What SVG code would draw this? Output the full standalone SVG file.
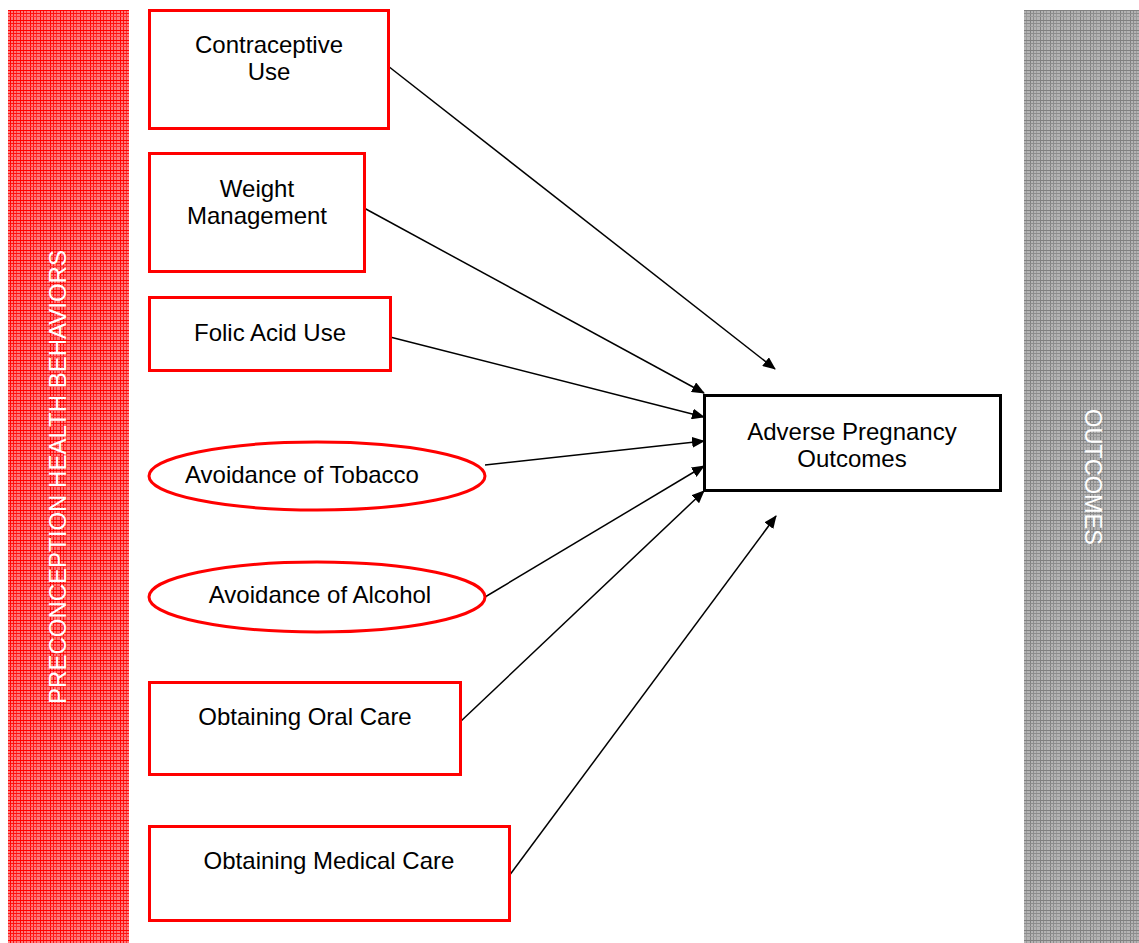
<svg xmlns="http://www.w3.org/2000/svg" width="1139" height="943" viewBox="0 0 1139 943">
<style>
.box{fill:#fff;stroke:#f00;stroke-width:3}
.t{font-family:"Liberation Sans",Arial,sans-serif;font-size:24px;fill:#000;text-anchor:middle}
.bar{font-family:"Liberation Sans",Arial,sans-serif;font-size:24px;fill:#fff;text-anchor:middle}
.c{stroke:#000;stroke-width:1.5;fill:none;marker-end:url(#ah)}
</style>
<defs>
<pattern id="pr" width="10" height="10" patternUnits="userSpaceOnUse">
<rect width="10" height="10" fill="#ff7a7a"/>
<rect x="0" y="0" width="1" height="10" fill="#ff0000"/>
<rect x="3" y="0" width="1" height="10" fill="#ff1010"/>
<rect x="6" y="0" width="1" height="10" fill="#ff3030"/>
<rect x="0" y="0" width="10" height="1" fill="#ff0000"/>
<rect x="0" y="3" width="10" height="1" fill="#ff1010"/>
<rect x="0" y="6" width="10" height="1" fill="#ff3030"/>
</pattern>
<pattern id="pg" width="10" height="10" patternUnits="userSpaceOnUse">
<rect width="10" height="10" fill="#b4b4b4"/>
<rect x="0" y="0" width="1" height="10" fill="#808080"/>
<rect x="3" y="0" width="1" height="10" fill="#8c8c8c"/>
<rect x="6" y="0" width="1" height="10" fill="#9a9a9a"/>
<rect x="0" y="0" width="10" height="1" fill="#808080"/>
<rect x="0" y="3" width="10" height="1" fill="#8c8c8c"/>
<rect x="0" y="6" width="10" height="1" fill="#9a9a9a"/>
</pattern>
<marker id="ah" markerWidth="13" markerHeight="11" refX="12" refY="5.5" orient="auto" markerUnits="userSpaceOnUse">
<path d="M0,0 L13,5.5 L0,11 Z" fill="#000"/>
</marker>
</defs>
<g id="bar-left">
<rect x="8" y="10" width="121" height="933" fill="url(#pr)"/>
<text class="bar" transform="translate(66,477) rotate(-90)">PRECONCEPTION HEALTH BEHAVIORS</text>
</g>
<g id="bar-right">
<rect x="1024" y="10" width="115" height="933" fill="url(#pg)"/>
<text class="bar" style="font-size:23.5px" transform="translate(1085,477) rotate(90)">OUTCOMES</text>
</g>
<g id="connectors">
<line class="c" x1="388" y1="66" x2="775" y2="369"/>
<line class="c" x1="364" y1="208" x2="704" y2="393"/>
<line class="c" x1="390" y1="337" x2="704" y2="417"/>
<line class="c" x1="485" y1="465" x2="704" y2="441"/>
<line class="c" x1="485" y1="597" x2="704" y2="466"/>
<line class="c" x1="460" y1="722" x2="704" y2="491"/>
<line class="c" x1="509" y1="876" x2="776" y2="516"/>
</g>
<g id="n-contraceptive">
<rect class="box" x="149.5" y="10.5" width="239" height="118"/>
<text class="t" x="269" y="53">Contraceptive</text>
<text class="t" x="269" y="80">Use</text>
</g>
<g id="n-weight">
<rect class="box" x="149.5" y="153.5" width="215" height="118"/>
<text class="t" x="257" y="197">Weight</text>
<text class="t" x="257" y="224">Management</text>
</g>
<g id="n-folic">
<rect class="box" x="149.5" y="297.5" width="241" height="73"/>
<text class="t" x="270" y="341">Folic Acid Use</text>
</g>
<g id="n-tobacco">
<ellipse class="box" cx="317" cy="476" rx="168" ry="34"/>
<text class="t" x="302" y="483">Avoidance of Tobacco</text>
</g>
<g id="n-alcohol">
<ellipse class="box" cx="317" cy="597" rx="168" ry="35"/>
<text class="t" x="320" y="603">Avoidance of Alcohol</text>
</g>
<g id="n-oral">
<rect class="box" x="149.5" y="682.5" width="311" height="92"/>
<text class="t" x="305" y="725">Obtaining Oral Care</text>
</g>
<g id="n-medical">
<rect class="box" x="149.5" y="826.5" width="360" height="94"/>
<text class="t" x="329" y="869">Obtaining Medical Care</text>
</g>
<g id="n-adverse">
<rect x="704.5" y="395.5" width="296" height="95" fill="#fff" stroke="#000" stroke-width="3"/>
<text class="t" x="852" y="440">Adverse Pregnancy</text>
<text class="t" x="852" y="467">Outcomes</text>
</g>
</svg>
